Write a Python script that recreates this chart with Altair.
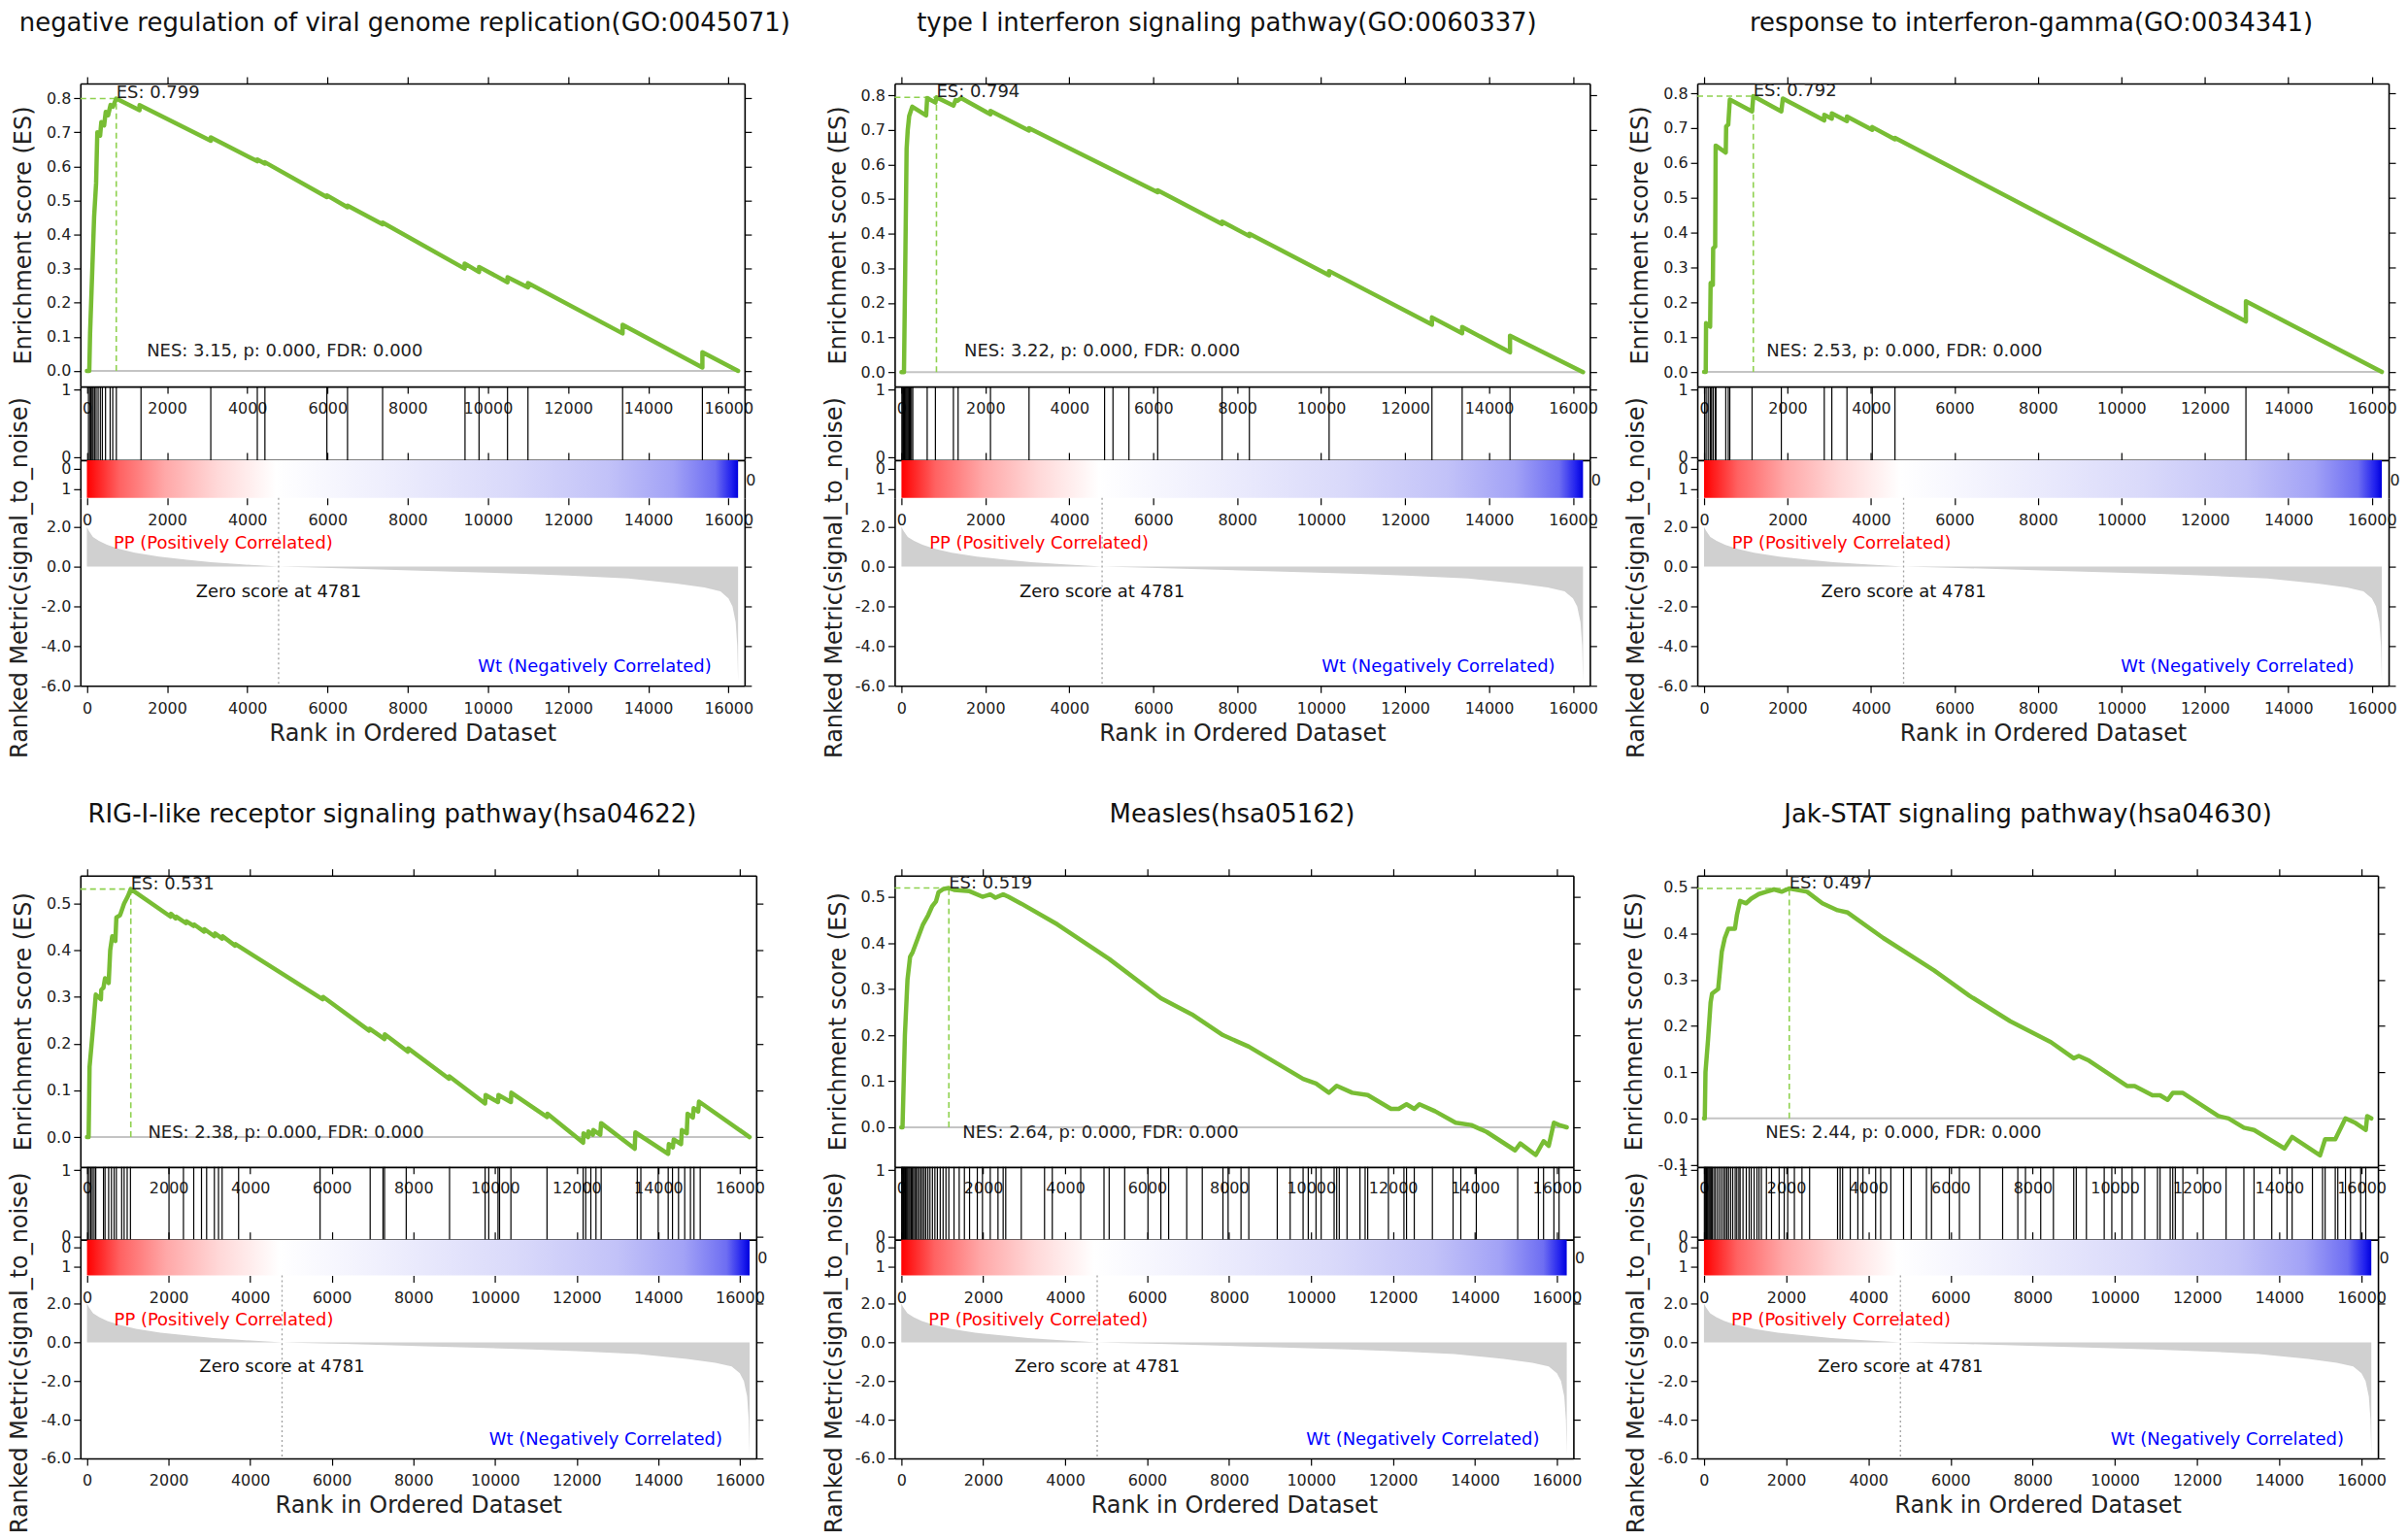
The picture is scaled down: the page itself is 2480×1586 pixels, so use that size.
import altair as alt
import pandas as pd

FONT = "DejaVu Sans"
N_GENES = 16240
X_DOMAIN = [-162, 16402]
X_TICKS = [0, 2000, 4000, 6000, 8000, 10000, 12000, 14000, 16000]
ZERO_SCORE = 4781

TITLES = [
    "negative regulation of viral genome replication(GO:0045071)",
    "type I interferon signaling pathway(GO:0060337)",
    "response to interferon-gamma(GO:0034341)",
    "RIG-I-like receptor signaling pathway(hsa04622)",
    "Measles(hsa05162)",
    "Jak-STAT signaling pathway(hsa04630)",
]
ES_LABELS = ["ES: 0.799", "ES: 0.794", "ES: 0.792", "ES: 0.531", "ES: 0.519", "ES: 0.497"]
ES_PEAK = [0.799, 0.794, 0.792, 0.531, 0.519, 0.497]
ES_PEAK_RANK = [733, 834, 1180, 1074, 1161, 2076]
NES_LABELS = [
    "NES: 3.15, p: 0.000, FDR: 0.000",
    "NES: 3.22, p: 0.000, FDR: 0.000",
    "NES: 2.53, p: 0.000, FDR: 0.000",
    "NES: 2.38, p: 0.000, FDR: 0.000",
    "NES: 2.64, p: 0.000, FDR: 0.000",
    "NES: 2.44, p: 0.000, FDR: 0.000",
]
ES_DOMAIN = [[-0.046, 0.843], [-0.042, 0.834], [-0.042, 0.828],
             [-0.064, 0.56], [-0.086, 0.546], [-0.105, 0.525]]
ES_TICKS = [
    [0.0, 0.1, 0.2, 0.3, 0.4, 0.5, 0.6, 0.7, 0.8],
    [0.0, 0.1, 0.2, 0.3, 0.4, 0.5, 0.6, 0.7, 0.8],
    [0.0, 0.1, 0.2, 0.3, 0.4, 0.5, 0.6, 0.7, 0.8],
    [0.0, 0.1, 0.2, 0.3, 0.4, 0.5],
    [0.0, 0.1, 0.2, 0.3, 0.4, 0.5],
    [-0.1, 0.0, 0.1, 0.2, 0.3, 0.4, 0.5],
]

# running enrichment score vertices (rank, ES)
P1_CURVE = [(0, 0), (60, 0), (80, 0.11), (130, 0.28), (180, 0.45), (230, 0.55), (260, 0.70),
            (330, 0.69), (360, 0.73), (430, 0.72), (470, 0.76), (530, 0.75), (590, 0.78),
            (650, 0.775), (733, 0.799), (1313, 0.765), (1313, 0.78), (3090, 0.675), (3090, 0.685),
            (4250, 0.615), (4250, 0.62), (4440, 0.608), (4440, 0.612), (5985, 0.51), (5985, 0.515),
            (6500, 0.48), (6500, 0.485), (7375, 0.43), (7375, 0.435), (9420, 0.30), (9420, 0.315),
            (9780, 0.29), (9780, 0.305), (10490, 0.26), (10490, 0.275), (11000, 0.245),
            (11000, 0.258), (13360, 0.11), (13360, 0.135), (15350, 0.01), (15350, 0.055),
            (16240, 0.0)]
P2_CURVE = [(0, 0), (60, 0), (90, 0.30), (123, 0.645), (150, 0.70), (184, 0.74), (257, 0.767),
            (588, 0.742), (613, 0.792), (809, 0.779), (834, 0.794), (1238, 0.770), (1290, 0.786),
            (1330, 0.784), (1422, 0.792), (2121, 0.745), (2121, 0.755), (3040, 0.698),
            (3040, 0.705), (6105, 0.52), (6105, 0.525), (7640, 0.428), (7640, 0.435),
            (8290, 0.393), (8290, 0.40), (10190, 0.28), (10190, 0.292), (12640, 0.137),
            (12640, 0.158), (13360, 0.112), (13360, 0.13), (14500, 0.057), (14500, 0.105),
            (16240, 0.0)]
P3_CURVE = [(0, 0), (40, 0), (48, 0.14), (145, 0.13), (157, 0.255), (210, 0.25), (218, 0.355),
            (266, 0.36), (278, 0.65), (520, 0.63), (530, 0.705), (580, 0.71), (617, 0.782),
            (1150, 0.748), (1180, 0.792), (1851, 0.748), (1888, 0.785), (2880, 0.722),
            (2880, 0.738), (3061, 0.727), (3061, 0.742), (3424, 0.72), (3424, 0.733),
            (4030, 0.695), (4030, 0.703), (4574, 0.668), (4574, 0.672), (12983, 0.145),
            (12983, 0.203), (16240, 0.0)]
P4_CURVE = [(0, 0), (40, 0), (63, 0.15), (114, 0.20), (164, 0.25), (215, 0.305), (341, 0.295),
            (350, 0.315), (404, 0.32), (442, 0.34), (531, 0.33), (569, 0.40), (619, 0.43),
            (695, 0.42), (720, 0.47), (809, 0.475), (830, 0.48), (910, 0.50), (999, 0.515),
            (1074, 0.531), (2048, 0.472), (2060, 0.478), (2174, 0.468), (2190, 0.472),
            (2427, 0.458), (2440, 0.462), (2616, 0.452), (2630, 0.455), (2869, 0.44),
            (2880, 0.445), (3122, 0.43), (3140, 0.436), (3312, 0.425), (3325, 0.43),
            (3628, 0.41), (3640, 0.413), (5777, 0.295), (5790, 0.30), (6914, 0.228),
            (6925, 0.232), (7293, 0.21), (7300, 0.22), (7862, 0.183), (7870, 0.19),
            (8873, 0.125), (8880, 0.13), (9758, 0.072), (9770, 0.09), (10074, 0.075),
            (10085, 0.09), (10390, 0.075), (10400, 0.095), (11275, 0.043), (11285, 0.05),
            (12160, -0.012), (12170, 0.008), (12280, 0.0), (12290, 0.012), (12400, 0.005),
            (12410, 0.015), (12580, 0.005), (12600, 0.03), (13424, -0.025), (13440, 0.01),
            (14245, -0.036), (14260, -0.015), (14360, -0.022), (14380, -0.005), (14560, -0.015),
            (14580, 0.015), (14700, 0.008), (14720, 0.05), (14850, 0.042), (14870, 0.062),
            (14980, 0.055), (15000, 0.076), (16240, 0.0)]
P5_CURVE = [(0, 0), (30, 0), (88, 0.2), (151, 0.32), (215, 0.37), (278, 0.38), (404, 0.41),
            (530, 0.44), (656, 0.46), (757, 0.48), (846, 0.49), (909, 0.51), (1035, 0.517),
            (1161, 0.519), (1287, 0.515), (1666, 0.512), (1981, 0.50), (2171, 0.505),
            (2297, 0.498), (2486, 0.505), (2612, 0.50), (2928, 0.485), (3811, 0.44),
            (5073, 0.365), (6335, 0.28), (7092, 0.245), (7850, 0.20), (8480, 0.175),
            (9238, 0.135), (9806, 0.105), (10121, 0.095), (10437, 0.075), (10626, 0.09),
            (11005, 0.075), (11383, 0.07), (11951, 0.04), (12140, 0.04), (12330, 0.05),
            (12519, 0.04), (12645, 0.05), (13024, 0.035), (13529, 0.01), (13907, 0.005),
            (14286, -0.01), (14980, -0.05), (15106, -0.035), (15485, -0.06), (15675, -0.03),
            (15801, -0.04), (15927, 0.01), (16053, 0.005), (16240, 0.0)]
P6_CURVE = [(0, 0), (20, 0), (37, 0.10), (99, 0.17), (161, 0.25), (198, 0.27), (346, 0.28),
            (433, 0.36), (507, 0.39), (593, 0.41), (754, 0.41), (803, 0.44), (878, 0.47),
            (1026, 0.465), (1150, 0.475), (1335, 0.485), (1520, 0.49), (1706, 0.495),
            (1891, 0.49), (2076, 0.497), (2509, 0.49), (2880, 0.465), (3251, 0.45),
            (3498, 0.445), (4363, 0.39), (5599, 0.32), (6464, 0.265), (7453, 0.21),
            (8442, 0.165), (8998, 0.13), (9122, 0.135), (9369, 0.125), (10296, 0.07),
            (10481, 0.07), (10914, 0.05), (11099, 0.05), (11285, 0.04), (11408, 0.055),
            (11655, 0.055), (12520, 0.005), (12768, 0.0), (13139, -0.02), (13386, -0.025),
            (14127, -0.065), (14313, -0.04), (14993, -0.08), (15116, -0.045), (15363, -0.045),
            (15611, 0.0), (15858, -0.01), (16105, -0.025), (16140, 0.005), (16240, 0.0)]

# gene-set hit positions (rank)
P1_HITS = [40, 80, 100, 130, 155, 190, 230, 280, 335, 385, 465, 580, 645, 735, 1350, 3090,
           4250, 4440, 5985, 6500, 7375, 9430, 9780, 10490, 11000, 13360, 15350]
P2_HITS = [10, 30, 50, 70, 90, 110, 130, 150, 170, 190, 210, 240, 270, 613, 809, 1238, 1350,
           2121, 3040, 4840, 5040, 5420, 6105, 7640, 8290, 10190, 12640, 13360, 14500]
P3_HITS = [12, 48, 97, 145, 157, 181, 218, 266, 275, 282, 520, 580, 617, 1150, 1851, 2880,
           3061, 3424, 4030, 4574, 12983]
P4_HITS = [15, 55, 95, 130, 175, 215, 404, 442, 531, 600, 665, 720, 850, 910, 985, 1065, 2010,
           2364, 2616, 2806, 2932, 3122, 3223, 3312, 3716, 5713, 6940, 7255, 7293, 7824, 8886,
           9758, 9847, 10074, 10112, 10390, 11275, 12160, 12223, 12349, 12475, 12602, 13487,
           13575, 14000, 14245, 14350, 14498, 14650, 14790, 14877, 15030]
P5_HITS = [10, 25, 40, 55, 70, 85, 100, 120, 140, 160, 185, 210, 240, 270, 300, 330, 365, 400,
           440, 480, 520, 560, 600, 650, 700, 760, 820, 880, 950, 1020, 1090, 1160, 1287, 1413,
           1540, 1666, 1855, 1981, 2171, 2360, 2486, 2549, 2928, 3496, 3685, 4379, 4947, 5073,
           5452, 6020, 6335, 6525, 6966, 7345, 7850, 7976, 8291, 8481, 9175, 9490, 9806, 9932,
           10121, 10247, 10563, 10626, 10689, 10878, 11194, 11320, 11383, 11888, 12267, 12330,
           12519, 12961, 13466, 13655, 14033, 15043, 15548, 15674, 15927, 16053]
P6_HITS = [10, 30, 45, 60, 80, 100, 125, 150, 175, 200, 240, 280, 330, 380, 430, 480, 520, 560,
           600, 650, 700, 760, 800, 850, 880, 950, 1030, 1100, 1150, 1220, 1290, 1340, 1397,
           1520, 1644, 1829, 1953, 2039, 2200, 2385, 2571, 3251, 3313, 3374, 3560, 3745, 3869,
           4178, 4301, 4548, 4857, 5043, 5414, 5537, 5970, 6217, 6711, 7268, 7638, 7824, 8195,
           8504, 8998, 9060, 9307, 9740, 9925, 10172, 10419, 10728, 11037, 11099, 11346, 11408,
           11470, 11655, 12150, 12706, 13139, 13386, 13818, 14189, 14313, 14807, 15054, 15116,
           15363, 15425, 15611, 15734, 15981, 16105]

CURVES = [P1_CURVE, P2_CURVE, P3_CURVE, P4_CURVE, P5_CURVE, P6_CURVE]
HITS = [P1_HITS, P2_HITS, P3_HITS, P4_HITS, P5_HITS, P6_HITS]

# ranked list metric (signal_to_noise), same dataset for all panels
METRIC_RANK = [0, 50, 150, 300, 500, 800, 1200, 1800, 2500, 3100, 3800, 4400, 4781, 5500, 6300,
               8300, 10900, 12000, 13500, 14700, 15400, 15800, 16000, 16100, 16180, 16220, 16240]
METRIC_VALUE = [2.0, 1.8, 1.5, 1.3, 1.1, 0.9, 0.7, 0.5, 0.35, 0.22, 0.12, 0.05, 0.0, -0.04, -0.08,
                -0.2, -0.36, -0.45, -0.6, -0.85, -1.05, -1.25, -1.6, -2.0, -2.8, -4.0, -5.8]
METRIC_TICKS = [2.0, 0.0, -2.0, -4.0, -6.0]

# ---- styles / layout ----
GREEN = "#78bd34"
GREEN_DASH = "#8fd14f"
CBAR_STOPS = [(0.0, "#ff0000"), (0.05, "#ff6262"), (0.12, "#ffa8a8"), (0.2, "#ffd8d8"),
              (0.29, "#ffffff"), (0.45, "#efeffd"), (0.65, "#d9d9fa"), (0.8, "#c2c2f8"),
              (0.9, "#a2a2f6"), (0.965, "#6e6ef2"), (0.99, "#2020ee"), (1.0, "#0000dd")]
PANEL_W = [686, 718, 714, 698, 701, 703]
ROW_H = [(313, 76, 39, 194), (301, 75, 37, 189)]
SPACER_W = [731, 719, 600]
ROW_GAP = 196
COL_GAP = 110
TITLE_DX = [-8, -16, -12, -27, -2, -10]

ONE = pd.DataFrame({"a": [0]})
SX = alt.Scale(domain=X_DOMAIN, nice=False, zero=False)


def axis(orient, values, labels=True, fmt=None, title=None, domain=True, ticks=True,
         tick_size=7, label_padding=3, title_padding=10, label_expr=None, title_y=None):
    kw = dict(orient=orient, values=values, labels=labels, domain=domain, ticks=ticks,
              tickSize=tick_size, tickColor="#000000", tickWidth=1.2,
              domainColor="#000000", domainWidth=1.6, grid=False,
              labelFont=FONT, labelFontSize=16, labelColor="#222222",
              labelPadding=label_padding, labelOverlap=False, labelFlush=False,
              title=title)
    if fmt:
        kw["labelExpr"] = "replace(format(datum.value, '%s'), '\u2212', '-')" % fmt
    if label_expr:
        kw["labelExpr"] = label_expr
    if title:
        kw.update(titleFont=FONT, titleFontSize=24, titleFontWeight="normal",
                  titleColor="#222222", titlePadding=title_padding)
    if title_y is not None:
        kw["titleY"] = title_y
    return alt.Axis(**kw)


def es_chart(i, W, H):
    sy = alt.Scale(domain=ES_DOMAIN[i], nice=False, zero=False)
    df = pd.DataFrame({"rank": [p[0] for p in CURVES[i]],
                       "es": [p[1] for p in CURVES[i]]})
    df["i"] = range(len(df))
    base = alt.Chart(df)
    line = base.mark_line(color=GREEN, strokeWidth=4.5, strokeJoin="round", strokeCap="round").encode(
        x=alt.X("rank:Q", scale=SX, axis=axis("bottom", X_TICKS, fmt="d", label_padding=7)),
        y=alt.Y("es:Q", scale=sy, axis=axis("left", ES_TICKS[i], fmt=".1f",
                                            title="Enrichment score (ES)", title_padding=11)),
        order=alt.Order("i:Q"),
    )
    mirror = base.mark_line(opacity=0).encode(
        x=alt.X("rank:Q", scale=SX, axis=axis("top", X_TICKS, labels=False)),
        y=alt.Y("es:Q", scale=sy, axis=axis("right", ES_TICKS[i], labels=False)),
        order=alt.Order("i:Q"),
    )
    zero = alt.Chart(ONE).mark_rule(color="#c4c4c4", strokeWidth=2).encode(
        x=alt.XDatum(0, scale=SX, axis=None), x2=alt.X2Datum(N_GENES),
        y=alt.YDatum(0, scale=sy, axis=None))
    hdash = alt.Chart(ONE).mark_rule(color=GREEN_DASH, strokeWidth=1.6, strokeDash=[6, 4]).encode(
        x=alt.XDatum(X_DOMAIN[0], scale=SX, axis=None), x2=alt.X2Datum(ES_PEAK_RANK[i]),
        y=alt.YDatum(ES_PEAK[i], scale=sy, axis=None))
    vdash = alt.Chart(ONE).mark_rule(color=GREEN_DASH, strokeWidth=1.6, strokeDash=[6, 4]).encode(
        x=alt.XDatum(ES_PEAK_RANK[i], scale=SX, axis=None),
        y=alt.YDatum(0, scale=sy, axis=None), y2=alt.Y2Datum(ES_PEAK[i]))
    es_txt = alt.Chart(ONE).mark_text(align="left", baseline="alphabetic", font=FONT,
                                      fontSize=18, color="#222222").encode(
        x=alt.XDatum(ES_PEAK_RANK[i], scale=SX, axis=None),
        y=alt.YDatum(ES_PEAK[i], scale=sy, axis=None),
        text=alt.value(ES_LABELS[i]))
    nes_txt = alt.Chart(ONE).mark_text(align="left", baseline="alphabetic", font=FONT,
                                       fontSize=18, color="#222222").encode(
        x=alt.value(0.1 * W), y=alt.value(0.9 * H), text=alt.value(NES_LABELS[i]))
    return alt.layer(zero, hdash, vdash, line, mirror, es_txt, nes_txt).resolve_axis(
        x="independent", y="independent").properties(
        width=W, height=H,
        title=alt.TitleParams(TITLES[i], font=FONT, fontSize=26, fontWeight="normal",
                              color="#111111", anchor="middle", frame="group",
                              offset=42, dx=TITLE_DX[i]))


def hits_chart(i, W, H):
    sy = alt.Scale(domain=[-0.05, 1.05], nice=False, zero=False)
    df = pd.DataFrame({"rank": HITS[i]})
    rules = alt.Chart(df).mark_rule(color="#000000", strokeWidth=1.2).encode(
        x=alt.X("rank:Q", scale=SX, axis=None),
        y=alt.YDatum(-0.05, scale=sy, axis=axis("left", [0, 1], fmt="d")),
        y2=alt.Y2Datum(1.05))
    mirror = alt.Chart(ONE).mark_point(opacity=0).encode(
        x=alt.XDatum(0, scale=SX, axis=None),
        y=alt.YDatum(0, scale=sy, axis=axis("right", [0, 1], labels=False)))
    return alt.layer(rules, mirror).resolve_axis(x="independent", y="independent").properties(
        width=W, height=H)


def cbar_chart(i, W, H):
    sy = alt.Scale(domain=[-0.42, 1.45], nice=False, zero=False, reverse=True)
    grad = alt.LinearGradient(gradient="linear",
                              stops=[alt.GradientStop(color=c, offset=o) for o, c in CBAR_STOPS],
                              x1=0, x2=1, y1=0, y2=0)
    bar = alt.Chart(ONE).mark_rect(color=grad).encode(
        x=alt.XDatum(0, scale=SX, axis=axis("bottom", X_TICKS, fmt="d", domain=False,
                                               label_padding=8)),
        x2=alt.X2Datum(N_GENES),
        y=alt.YDatum(-0.42, scale=sy, axis=axis("left", [0, 1], fmt="d")),
        y2=alt.Y2Datum(1.45))
    mirror = alt.Chart(ONE).mark_point(opacity=0).encode(
        x=alt.XDatum(0, scale=SX, axis=axis("top", X_TICKS, labels=False, tick_size=8)),
        y=alt.YDatum(0, scale=sy, axis=axis("right", [0.55], ticks=False, label_padding=1,
                                            label_expr="'0'")))
    return alt.layer(bar, mirror).resolve_axis(x="independent", y="independent").properties(
        width=W, height=H)


def metric_chart(i, W, H):
    sy = alt.Scale(domain=[-6.0, 3.46], nice=False, zero=False)
    df = pd.DataFrame({"rank": METRIC_RANK, "metric": METRIC_VALUE})
    area = alt.Chart(df).mark_area(color="#d0d0d0").encode(
        x=alt.X("rank:Q", scale=SX,
                axis=axis("bottom", X_TICKS, fmt="d", domain=True, label_padding=8,
                          title="Rank in Ordered Dataset", title_padding=6)),
        y=alt.Y("metric:Q", scale=sy, stack=False,
                axis=axis("left", METRIC_TICKS, fmt=".1f",
                          title="Ranked Metric(signal_to_noise)", title_padding=9,
                          title_y=H / 2 - 15)),
        y2=alt.Y2Datum(0))
    mirror = alt.Chart(ONE).mark_point(opacity=0).encode(
        x=alt.XDatum(0, scale=SX, axis=None),
        y=alt.YDatum(0, scale=sy, axis=axis("right", METRIC_TICKS, labels=False)))
    zline = alt.Chart(ONE).mark_rule(color="#a0a0a0", strokeWidth=1.3, strokeDash=[2, 3]).encode(
        x=alt.XDatum(ZERO_SCORE, scale=SX, axis=None), y=alt.value(0), y2=alt.value(H))
    pp = alt.Chart(ONE).mark_text(align="left", baseline="middle", font=FONT, fontSize=18,
                                  color="#ff0000").encode(
        x=alt.value(0.05 * W), y=alt.value(0.245 * H),
        text=alt.value("PP (Positively Correlated)"))
    zs = alt.Chart(ONE).mark_text(align="center", baseline="middle", font=FONT, fontSize=18,
                                  color="#111111").encode(
        x=alt.XDatum(ZERO_SCORE, scale=SX, axis=None), y=alt.value(0.5 * H),
        text=alt.value("Zero score at %d" % ZERO_SCORE))
    wt = alt.Chart(ONE).mark_text(align="right", baseline="middle", font=FONT, fontSize=18,
                                  color="#0000ff").encode(
        x=alt.value(0.95 * W), y=alt.value(0.9 * H),
        text=alt.value("Wt (Negatively Correlated)"))
    return alt.layer(area, zline, mirror, pp, zs, wt).resolve_axis(
        x="independent", y="independent").properties(width=W, height=H)


def spacer(w, h):
    return alt.Chart(ONE).mark_point(opacity=0).encode(
        x=alt.value(0), y=alt.value(0)).properties(width=w, height=h)


cells = []
for r, group in enumerate([(0, 1, 2), (3, 4, 5)]):
    h_es, h_hit, h_cb, h_m = ROW_H[r]
    cells += [es_chart(i, PANEL_W[i], h_es) for i in group]
    cells += [hits_chart(i, PANEL_W[i], h_hit) for i in group]
    cells += [cbar_chart(i, PANEL_W[i], h_cb) for i in group]
    cells += [metric_chart(i, PANEL_W[i], h_m) for i in group]
    if r == 0:
        cells += [spacer(w, ROW_GAP) for w in SPACER_W]

chart = alt.concat(*cells, columns=3, spacing={"row": 0, "column": COL_GAP},
                   bounds="flush", align="each").properties(padding=0)
chart = chart.configure(background="#ffffff").configure_view(strokeWidth=0)

chart.save("out.html", embed_options={"renderer": "svg", "actions": False})
